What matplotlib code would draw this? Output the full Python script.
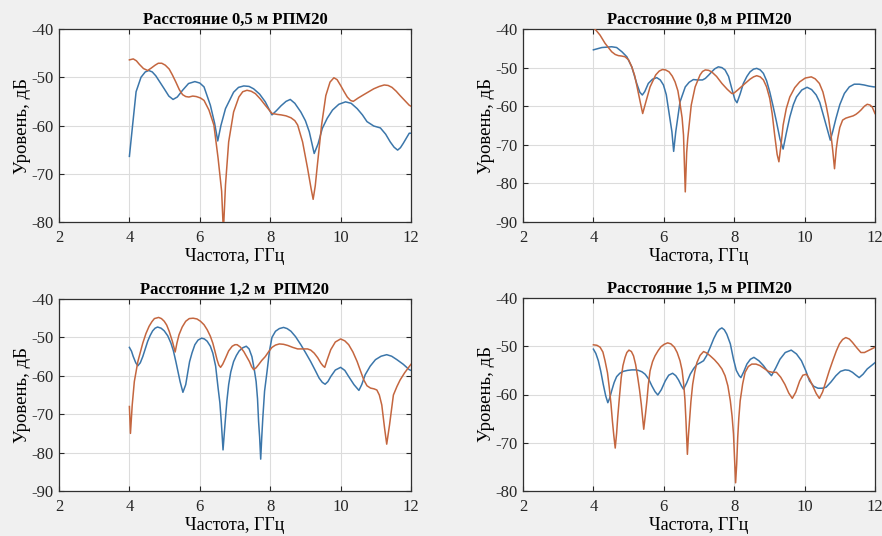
import matplotlib
matplotlib.use("Agg")
import matplotlib.pyplot as plt

plt.rcParams['font.family'] = ['Liberation Serif', 'DejaVu Serif']
plt.rcParams['axes.unicode_minus'] = False

# ---- Distance 0.5 m ----
f05_blue = [4.00, 4.09, 4.19, 4.33, 4.45, 4.55, 4.65, 4.75, 4.99, 5.12, 5.24, 5.36, 5.51, 5.68, 5.86, 6.00,
            6.12, 6.30, 6.42, 6.51, 6.60, 6.73, 6.96, 7.10, 7.25, 7.40, 7.53, 7.70, 7.86, 8.05, 8.18, 8.31,
            8.45, 8.57, 8.70, 8.87, 9.00, 9.11, 9.25, 9.36, 9.48, 9.62, 9.77, 9.95, 10.14, 10.30, 10.47,
            10.62, 10.75, 10.94, 11.13, 11.28, 11.41, 11.52, 11.62, 11.70, 11.78, 11.95, 12.00]
l05_blue = [-66.4, -60.0, -53.0, -50.0, -48.9, -48.6, -48.9, -49.7, -52.4, -53.9, -54.6, -54.1, -52.7, -51.3,
            -50.9, -51.2, -52.0, -55.8, -59.5, -63.2, -60.0, -56.5, -53.1, -52.1, -51.8, -51.9, -52.4, -53.5,
            -55.1, -57.8, -56.9, -55.9, -55.0, -54.6, -55.4, -57.2, -59.0, -61.3, -65.8, -63.8, -60.6, -58.5,
            -56.8, -55.6, -55.1, -55.4, -56.5, -57.8, -59.2, -60.1, -60.5, -61.8, -63.4, -64.5, -65.1, -64.6,
            -63.7, -61.6, -61.6]
f05_red = [4.00, 4.11, 4.20, 4.28, 4.40, 4.52, 4.62, 4.73, 4.82, 4.92, 5.02, 5.13, 5.22, 5.32, 5.42, 5.51,
           5.60, 5.69, 5.80, 5.90, 6.02, 6.12, 6.26, 6.40, 6.52, 6.62, 6.67, 6.73, 6.82, 6.96, 7.11, 7.22,
           7.34, 7.46, 7.58, 7.72, 7.86, 8.05, 8.20, 8.31, 8.45, 8.59, 8.70, 8.78, 8.92, 9.06, 9.16, 9.22,
           9.28, 9.34, 9.46, 9.58, 9.70, 9.81, 9.90, 10.00, 10.10, 10.19, 10.28, 10.36, 10.50, 10.66, 10.80,
           10.94, 11.10, 11.24, 11.35, 11.46, 11.58, 11.69, 11.82, 11.95, 12.00]
l05_red = [-46.4, -46.2, -46.6, -47.3, -48.2, -48.6, -48.1, -47.5, -47.1, -47.1, -47.5, -48.3, -49.5, -51.0,
           -52.6, -53.6, -54.0, -54.1, -53.9, -54.0, -54.3, -54.8, -56.8, -59.9, -66.8, -73.6, -82.0, -72.3,
           -63.4, -57.2, -54.1, -53.0, -52.7, -52.9, -53.4, -54.5, -55.8, -57.5, -57.7, -57.8, -58.0, -58.4,
           -59.0, -59.9, -63.4, -68.8, -73.0, -75.3, -72.5, -68.2, -59.9, -53.8, -51.0, -50.1, -50.5, -51.7,
           -53.0, -54.1, -54.8, -55.0, -54.3, -53.6, -53.0, -52.4, -51.9, -51.6, -51.7, -52.1, -52.9, -53.8,
           -54.8, -55.8, -56.0]

# ---- Distance 0.8 m ----
f08_blue = [4.00, 4.24, 4.52, 4.66, 4.81, 4.95, 5.09, 5.23, 5.32, 5.39, 5.46, 5.56, 5.68, 5.80, 5.90, 5.99,
            6.07, 6.13, 6.23, 6.28, 6.34, 6.46, 6.61, 6.72, 6.84, 6.95, 7.03, 7.10, 7.18, 7.28, 7.36, 7.45,
            7.55, 7.65, 7.74, 7.84, 7.93, 8.02, 8.08, 8.17, 8.26, 8.36, 8.45, 8.55, 8.64, 8.74, 8.83, 8.92,
            9.01, 9.10, 9.20, 9.30, 9.39, 9.48, 9.58, 9.68, 9.77, 9.92, 10.07, 10.20, 10.33, 10.43, 10.52,
            10.63, 10.73, 10.80, 10.89, 11.00, 11.13, 11.27, 11.41, 11.55, 11.69, 11.83, 11.97, 12.00]
l08_blue = [-45.4, -44.8, -44.6, -44.8, -45.9, -47.2, -49.8, -54.1, -56.4, -57.1, -56.2, -54.1, -53.0, -52.6,
            -53.2, -54.5, -57.0, -60.6, -66.6, -71.7, -66.6, -58.9, -55.0, -53.8, -53.1, -53.2, -53.2, -53.2,
            -52.8, -51.9, -51.1, -50.3, -49.8, -50.0, -50.6, -52.3, -55.4, -58.3, -59.1, -56.8, -54.1, -52.3,
            -51.1, -50.4, -50.2, -50.6, -51.5, -53.4, -56.3, -59.8, -64.0, -68.5, -71.1, -67.0, -62.8, -59.6,
            -57.6, -55.8, -55.1, -55.7, -57.1, -59.0, -61.9, -65.5, -68.8, -66.5, -63.2, -59.6, -56.7, -55.0,
            -54.3, -54.3, -54.5, -54.8, -55.0, -55.0]
f08_red = [4.00, 4.10, 4.19, 4.33, 4.52, 4.62, 4.71, 4.80, 4.90, 5.00, 5.09, 5.17, 5.23, 5.33, 5.40, 5.49,
           5.61, 5.77, 5.87, 5.96, 6.05, 6.15, 6.24, 6.32, 6.40, 6.46, 6.52, 6.56, 6.61, 6.65, 6.68, 6.78,
           6.89, 7.03, 7.10, 7.18, 7.27, 7.36, 7.50, 7.65, 7.80, 7.93, 7.98, 8.10, 8.26, 8.45, 8.55, 8.64,
           8.74, 8.83, 8.92, 9.01, 9.08, 9.15, 9.22, 9.27, 9.33, 9.39, 9.48, 9.58, 9.72, 9.86, 10.02, 10.19,
           10.30, 10.42, 10.52, 10.61, 10.68, 10.75, 10.80, 10.85, 10.90, 10.94, 11.00, 11.08, 11.17, 11.27,
           11.38, 11.46, 11.53, 11.60, 11.70, 11.78, 11.86, 11.92, 12.00]
l08_red = [-39.6, -40.6, -41.6, -43.7, -45.9, -46.6, -46.9, -47.0, -47.2, -48.0, -49.8, -52.0, -54.5, -58.9,
           -61.9, -58.9, -55.0, -51.9, -50.9, -50.5, -50.6, -51.1, -52.2, -53.7, -56.0, -59.3, -63.0, -67.5,
           -82.2, -72.0, -68.4, -59.7, -55.0, -51.9, -51.0, -50.6, -50.7, -51.1, -52.3, -54.1, -55.6, -56.7,
           -56.7, -55.8, -54.5, -53.0, -52.4, -52.1, -52.4, -53.2, -55.0, -58.0, -62.0, -67.5, -72.5, -74.4,
           -70.0, -64.9, -60.6, -57.6, -55.2, -53.7, -52.7, -52.4, -52.9, -54.1, -56.3, -59.7, -63.0, -67.5,
           -71.5, -76.2, -71.0, -68.4, -65.5, -63.6, -63.1, -62.8, -62.5, -62.1, -61.6, -61.0, -60.0, -59.5,
           -59.7, -60.2, -61.9]

# ---- Distance 1.2 m ----
f12_blue = [4.00, 4.06, 4.11, 4.18, 4.24, 4.31, 4.38, 4.45, 4.52, 4.59, 4.66, 4.73, 4.80, 4.90, 4.99, 5.09,
            5.18, 5.25, 5.32, 5.38, 5.44, 5.52, 5.60, 5.66, 5.71, 5.78, 5.86, 5.95, 6.05, 6.13, 6.21, 6.30,
            6.37, 6.45, 6.52, 6.57, 6.61, 6.66, 6.70, 6.73, 6.77, 6.82, 6.88, 6.96, 7.04, 7.12, 7.22, 7.32,
            7.40, 7.48, 7.55, 7.60, 7.64, 7.67, 7.70, 7.73, 7.76, 7.79, 7.84, 7.91, 7.98, 8.05, 8.15, 8.26,
            8.38, 8.48, 8.59, 8.72, 8.87, 9.00, 9.15, 9.28, 9.39, 9.48, 9.56, 9.64, 9.72, 9.85, 10.00, 10.12,
            10.23, 10.38, 10.52, 10.60, 10.70, 10.84, 10.99, 11.15, 11.31, 11.45, 11.60, 11.78, 11.95, 12.00]
l12_blue = [-52.6, -53.6, -55.0, -56.6, -57.4, -56.6, -55.0, -53.0, -51.0, -49.5, -48.3, -47.6, -47.3, -47.6,
            -48.3, -49.6, -51.5, -53.5, -56.3, -58.9, -61.5, -64.3, -62.3, -59.0, -56.3, -54.0, -51.9, -50.7,
            -50.2, -50.4, -51.0, -52.3, -54.1, -57.5, -63.2, -67.0, -71.9, -79.3, -74.5, -71.0, -66.5, -62.3,
            -59.0, -56.3, -54.7, -53.5, -52.7, -52.3, -53.0, -55.0, -58.5, -61.5, -66.0, -71.9, -76.0, -81.7,
            -76.0, -71.0, -64.0, -58.9, -53.5, -50.0, -48.4, -47.7, -47.4, -47.7, -48.4, -49.8, -51.9, -53.9,
            -56.3, -58.6, -60.6, -61.7, -62.2, -61.5, -60.2, -58.5, -57.8, -58.6, -60.2, -62.3, -63.8, -62.3,
            -59.7, -57.5, -55.8, -54.9, -54.5, -54.9, -55.8, -57.0, -58.4, -58.6]
f12_red = [4.00, 4.03, 4.08, 4.14, 4.24, 4.38, 4.47, 4.56, 4.64, 4.71, 4.83, 4.91, 4.99, 5.06, 5.13, 5.22,
           5.30, 5.35, 5.41, 5.50, 5.60, 5.70, 5.81, 5.92, 6.02, 6.12, 6.21, 6.30, 6.37, 6.43, 6.49, 6.54,
           6.59, 6.65, 6.73, 6.82, 6.92, 7.00, 7.06, 7.15, 7.25, 7.33, 7.41, 7.47, 7.53, 7.60, 7.67, 7.76,
           7.86, 7.95, 8.05, 8.15, 8.26, 8.38, 8.50, 8.64, 8.78, 8.92, 9.06, 9.15, 9.25, 9.35, 9.44, 9.50,
           9.55, 9.62, 9.72, 9.85, 10.00, 10.12, 10.23, 10.35, 10.47, 10.56, 10.66, 10.75, 10.85, 10.95,
           11.03, 11.10, 11.17, 11.25, 11.31, 11.39, 11.50, 11.60, 11.69, 11.82, 11.95, 12.00]
l12_red = [-68.0, -75.0, -67.6, -61.5, -56.3, -51.5, -49.0, -47.1, -45.9, -45.1, -44.8, -45.1, -45.8, -46.8,
           -48.4, -51.0, -53.8, -51.5, -49.3, -47.3, -45.8, -45.1, -45.0, -45.2, -45.8, -46.7, -48.0, -49.7,
           -51.5, -53.6, -55.8, -57.2, -57.8, -57.0, -55.4, -53.5, -52.3, -51.9, -51.9, -52.5, -53.7, -55.0,
           -56.3, -57.6, -58.4, -57.9, -57.1, -56.0, -55.0, -53.8, -52.6, -52.0, -51.7, -51.8, -52.1, -52.6,
           -53.0, -53.0, -53.0, -53.3, -54.1, -55.3, -56.7, -57.4, -57.8, -55.8, -53.2, -51.2, -50.4, -50.9,
           -51.9, -53.8, -56.3, -58.6, -61.1, -62.6, -63.2, -63.4, -63.7, -65.0, -67.6, -73.7, -77.8, -72.8,
           -65.0, -62.8, -61.1, -59.2, -57.6, -57.0]

# ---- Distance 1.5 m ----
f15_blue = [4.00, 4.07, 4.14, 4.21, 4.28, 4.35, 4.41, 4.46, 4.52, 4.59, 4.66, 4.75, 4.85, 4.97, 5.09, 5.20,
            5.28, 5.38, 5.47, 5.57, 5.66, 5.75, 5.83, 5.93, 6.04, 6.14, 6.25, 6.34, 6.42, 6.50, 6.56, 6.65,
            6.75, 6.85, 6.94, 7.04, 7.13, 7.22, 7.32, 7.42, 7.51, 7.58, 7.65, 7.72, 7.79, 7.89, 7.98, 8.06,
            8.14, 8.19, 8.27, 8.36, 8.46, 8.56, 8.70, 8.83, 8.95, 9.06, 9.18, 9.30, 9.45, 9.62, 9.77, 9.91,
            10.03, 10.14, 10.26, 10.38, 10.50, 10.61, 10.75, 10.89, 11.02, 11.15, 11.26, 11.36, 11.46, 11.55,
            11.66, 11.78, 11.90, 12.00]
l15_blue = [-50.6, -51.5, -53.0, -55.2, -57.9, -60.3, -61.7, -60.8, -59.2, -57.5, -56.3, -55.6, -55.2, -55.0,
            -54.9, -54.9, -55.0, -55.3, -55.8, -56.8, -58.2, -59.4, -60.1, -59.0, -57.2, -56.0, -55.6, -56.1,
            -57.0, -58.2, -58.9, -57.6, -55.8, -54.6, -53.8, -53.4, -53.0, -51.9, -50.2, -48.4, -47.1, -46.5,
            -46.2, -46.6, -47.5, -49.5, -52.7, -55.0, -56.1, -56.5, -55.3, -53.7, -52.7, -52.3, -53.0, -54.0,
            -55.2, -56.1, -54.5, -52.7, -51.3, -50.8, -51.6, -53.0, -55.0, -57.2, -58.3, -58.7, -58.7, -58.5,
            -57.4, -56.1, -55.2, -54.9, -55.0, -55.4, -56.0, -56.5, -55.8, -54.7, -54.0, -53.4]
f15_red = [4.00, 4.10, 4.19, 4.27, 4.33, 4.40, 4.45, 4.50, 4.54, 4.58, 4.62, 4.66, 4.69, 4.74, 4.79, 4.84,
           4.90, 4.95, 5.01, 5.08, 5.14, 5.20, 5.26, 5.31, 5.36, 5.43, 5.48, 5.52, 5.56, 5.61, 5.68, 5.75,
           5.84, 5.92, 6.01, 6.11, 6.20, 6.30, 6.38, 6.46, 6.52, 6.56, 6.60, 6.63, 6.67, 6.70, 6.73, 6.77,
           6.82, 6.88, 6.94, 7.03, 7.13, 7.22, 7.32, 7.44, 7.55, 7.65, 7.74, 7.82, 7.89, 7.94, 7.98, 8.04,
           8.07, 8.10, 8.13, 8.17, 8.24, 8.31, 8.40, 8.50, 8.62, 8.73, 8.85, 8.97, 9.08, 9.20, 9.32, 9.44,
           9.55, 9.65, 9.75, 9.86, 9.95, 10.05, 10.14, 10.23, 10.33, 10.42, 10.51, 10.61, 10.70, 10.80,
           10.90, 10.99, 11.08, 11.17, 11.27, 11.36, 11.48, 11.60, 11.70, 11.81, 11.92, 12.00]
l15_red = [-49.7, -49.8, -50.2, -51.2, -53.0, -55.5, -58.5, -62.0, -65.5, -68.5, -71.1, -68.0, -64.8, -60.5,
           -56.5, -54.0, -52.3, -51.3, -50.8, -51.1, -52.0, -53.8, -56.5, -59.0, -62.0, -67.2, -64.0, -61.3,
           -58.0, -55.1, -53.2, -52.0, -50.9, -50.1, -49.6, -49.3, -49.5, -50.2, -51.3, -53.0, -55.0, -57.5,
           -61.0, -65.5, -72.4, -68.5, -65.5, -61.5, -57.9, -55.3, -53.4, -51.9, -51.1, -51.4, -52.0, -52.8,
           -53.7, -54.7, -56.1, -58.2, -61.3, -64.5, -68.2, -78.3, -74.5, -68.9, -65.0, -61.3, -57.8, -55.4,
           -54.2, -53.7, -53.7, -54.0, -54.6, -55.2, -55.4, -55.4, -56.4, -57.9, -59.7, -60.8, -59.5, -57.2,
           -56.0, -55.8, -56.8, -58.2, -59.8, -60.8, -59.5, -57.2, -55.1, -53.0, -51.0, -49.5, -48.6, -48.2,
           -48.5, -49.2, -50.3, -51.3, -51.3, -50.9, -50.5, -50.2]

titles = ["Расстояние 0,5 м РПМ20", "Расстояние 0,8 м РПМ20",
          "Расстояние 1,2 м  РПМ20", "Расстояние 1,5 м РПМ20"]
x_label = "Частота, ГГц"
y_label = "Уровень, дБ"
x_ticks = [2, 4, 6, 8, 10, 12]
y_limits = [(-80, -40), (-90, -40), (-90, -40), (-80, -40)]

series = [
    ((f05_blue, l05_blue), (f05_red, l05_red)),
    ((f08_blue, l08_blue), (f08_red, l08_red)),
    ((f12_blue, l12_blue), (f12_red, l12_red)),
    ((f15_blue, l15_blue), (f15_red, l15_red)),
]

BLUE = "#3b76aa"
RED = "#c4663f"

W, H = 882, 536
fig = plt.figure(figsize=(W / 100, H / 100), dpi=100, facecolor="#f0f0f0")

# axes boxes in pixels: left, top, right, bottom
boxes = [(59, 29, 411, 222), (523, 29, 875, 222), (59, 299, 411, 491), (523, 298, 875, 491)]

for i, (l, t, r, b) in enumerate(boxes):
    ax = fig.add_axes([l / W, 1 - b / H, (r - l) / W, (b - t) / H])
    ax.set_facecolor("white")
    (fb, lb), (fr, lr) = series[i]
    ax.plot(fb, lb, color=BLUE, lw=1.1, zorder=3)
    ax.plot(fr, lr, color=RED, lw=1.1, zorder=3)
    ax.set_xlim(2, 12)
    lo, hi = y_limits[i]
    ax.set_ylim(lo, hi)
    ax.set_xticks(x_ticks)
    ax.set_yticks(list(range(lo, hi + 1, 10)))
    ax.grid(True, color="#dcdcdc", lw=0.8, zorder=0)
    ax.set_axisbelow(True)
    ax.tick_params(direction="in", top=True, right=True, length=3.5, width=0.8,
                   labelsize=12, colors="#262626")
    ax.tick_params(axis="x", pad=6)
    ax.tick_params(axis="y", pad=4)
    for sp in ax.spines.values():
        sp.set_color("#303030")
        sp.set_linewidth(0.9)
    ax.set_title(titles[i], fontsize=12, fontweight="bold", pad=4)
    ax.set_xlabel(x_label, fontsize=13, labelpad=1)
    ax.set_ylabel(y_label, fontsize=13.5, labelpad=0)

fig.savefig("out.png", dpi=100, facecolor=fig.get_facecolor())
